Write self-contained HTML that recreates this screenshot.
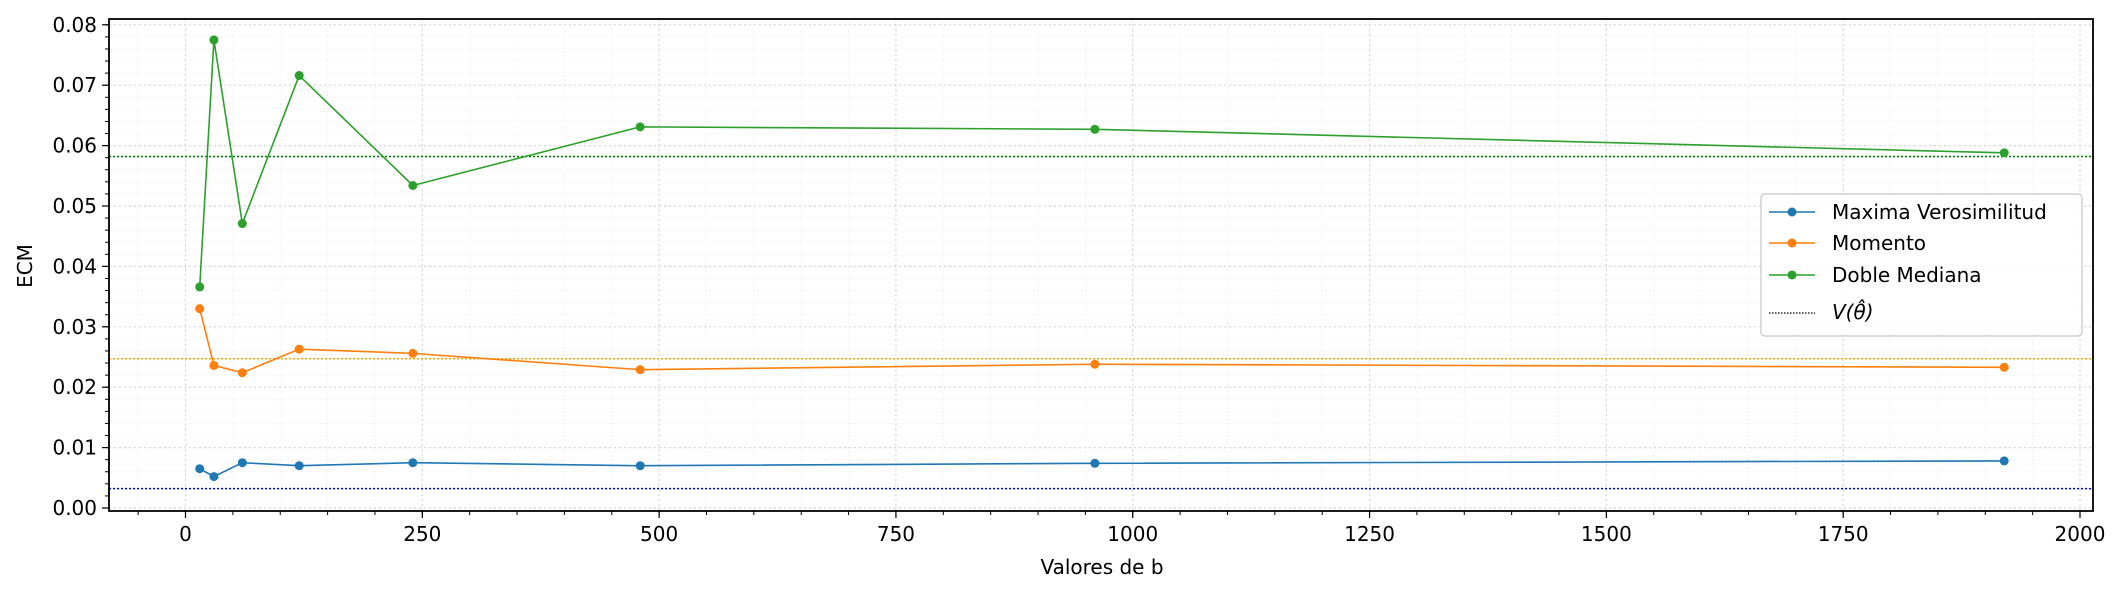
<!DOCTYPE html>
<html><head><meta charset="utf-8"><style>
body{margin:0;background:#fff;}
svg text{font-family:"DejaVu Sans","Liberation Sans",sans-serif;}
</style></head><body>
<svg id="chart" width="2124" height="592" xmlns="http://www.w3.org/2000/svg">
<rect width="2124" height="592" fill="#fff"/>
<g id="grid"></g><g id="hlines"></g><g id="series"></g><g id="axes"></g><g id="legend"></g>
</svg>
<script>
const bValues = [15, 30, 60, 120, 240, 480, 960, 1920];
const mvValues = [0.0065, 0.0052, 0.0075, 0.0070, 0.0075, 0.0070, 0.0074, 0.0078];
const momValues = [0.0330, 0.0236, 0.0224, 0.0263, 0.0256, 0.0229, 0.0238, 0.0233];
const dmValues = [0.0366, 0.0775, 0.0471, 0.0716, 0.0534, 0.0631, 0.0627, 0.0588];
const refValues = [0.0032, 0.0247, 0.0582];
const xTicks = [0, 250, 500, 750, 1000, 1250, 1500, 1750, 2000];
const yTicks = [0, 0.01, 0.02, 0.03, 0.04, 0.05, 0.06, 0.07, 0.08];
const yTickLabels = ["0.00","0.01","0.02","0.03","0.04","0.05","0.06","0.07","0.08"];
const seriesNames = ["Maxima Verosimilitud", "Momento", "Doble Mediana"];

const L=109, R=2093, T=19, B=511;
const X0=185.5, XS=(2080-185.5)/2000;
const Y0=508, YS=60.4/0.01;
const xs=v=>X0+v*XS, ys=v=>Y0-v*YS;
const NS="http://www.w3.org/2000/svg";
function mk(parent,tag,attrs){const e=document.createElementNS(NS,tag);for(const k in attrs)e.setAttribute(k,attrs[k]);document.getElementById(parent).appendChild(e);return e;}

for(let v=-50;v<=2050;v+=50){const x=xs(v);if(x<L||x>R)continue;
 const g=mk('grid','line',{x1:x,x2:x,y1:T,y2:B,stroke:'#efefef','stroke-width':1,'stroke-dasharray':'1.5,2.5'});
 
 const t=mk('axes','line',{x1:x,x2:x,y1:B,y2:B+4,stroke:'#000','stroke-width':1});
 }
for(let i=-1;i<=41;i++){const v=i*0.002;const y=ys(v);if(y<T||y>B)continue;
 const g=mk('grid','line',{x1:L,x2:R,y1:y,y2:y,stroke:'#efefef','stroke-width':1,'stroke-dasharray':'1.5,2.5'});
 
 const t=mk('axes','line',{x1:L-4,x2:L,y1:y,y2:y,stroke:'#000','stroke-width':1});
 }
xTicks.forEach(v=>{const x=xs(v);
 const g=mk('grid','line',{x1:x,x2:x,y1:T,y2:B,stroke:'#d8d8d8','stroke-width':1.2,'stroke-dasharray':'2,3'});
 
 const t=mk('axes','line',{x1:x,x2:x,y1:B,y2:B+7,stroke:'#000','stroke-width':1.2});
 
 const l=mk('axes','text',{x:x,y:B+30,'font-size':20,'text-anchor':'middle',fill:'#000'});l.textContent=String(v);
 });
yTicks.forEach((v,i)=>{const y=ys(v);
 const g=mk('grid','line',{x1:L,x2:R,y1:y,y2:y,stroke:'#d8d8d8','stroke-width':1.2,'stroke-dasharray':'2,3'});
 
 const t=mk('axes','line',{x1:L-7,x2:L,y1:y,y2:y,stroke:'#000','stroke-width':1.2});
 
 const l=mk('axes','text',{x:L-12,y:y+7,'font-size':20,'text-anchor':'end',fill:'#000'});l.textContent=yTickLabels[i];
 });
const fr=mk('axes','rect',{x:L,y:T,width:R-L,height:B-T,fill:'none',stroke:'#000','stroke-width':1.8});

const xl=mk('axes','text',{x:1102,y:574,'font-size':20,'text-anchor':'middle'});xl.textContent='Valores de b';

const yl=mk('axes','text',{x:0,y:0,'font-size':20,'text-anchor':'middle',transform:'translate(32,266) rotate(-90)'});yl.textContent='ECM';


const colors=['#1f77b4','#ff7f0e','#2ca02c'];
const refColors=['#0000ff','#ffa500','#008000'];
refValues.forEach((v,i)=>{const y=ys(v);
 const h=mk('hlines','line',{x1:L,x2:R,y1:y,y2:y,stroke:refColors[i],'stroke-width':1.5,'stroke-dasharray':'2,2'});
 });
[mvValues,momValues,dmValues].forEach((arr,s)=>{
 const pts=arr.map((v,i)=>xs(bValues[i])+','+ys(v)).join(' ');
 const pl=mk('series','polyline',{points:pts,fill:'none',stroke:colors[s],'stroke-width':1.6});
 
 arr.forEach((v,i)=>{const c=mk('series','circle',{cx:xs(bValues[i]),cy:ys(v),r:4.5,fill:colors[s]});
  });});
const lb=mk('legend','rect',{x:1761,y:194,width:321,height:142,rx:4,fill:'#fff','fill-opacity':0.85,stroke:'#d0d0d0','stroke-width':1.5});

const rowsY=[212,243,275];
seriesNames.forEach((n,i)=>{const y=rowsY[i];
 const ln=mk('legend','line',{x1:1769,x2:1815,y1:y,y2:y,stroke:colors[i],'stroke-width':1.6});
 
 const c=mk('legend','circle',{cx:1792,cy:y,r:4.5,fill:colors[i]});
 
 const t=mk('legend','text',{x:1832,y:y+7,'font-size':20});t.textContent=n;
 });
const dl=mk('legend','line',{x1:1769,x2:1815,y1:313,y2:313,stroke:'#000','stroke-width':1.3,'stroke-dasharray':'1.5,1.5'});

const vt=mk('legend','text',{x:1832,y:319,'font-size':20,'font-style':'italic'});vt.textContent='V(θ̂)';

</script>
</body></html>
